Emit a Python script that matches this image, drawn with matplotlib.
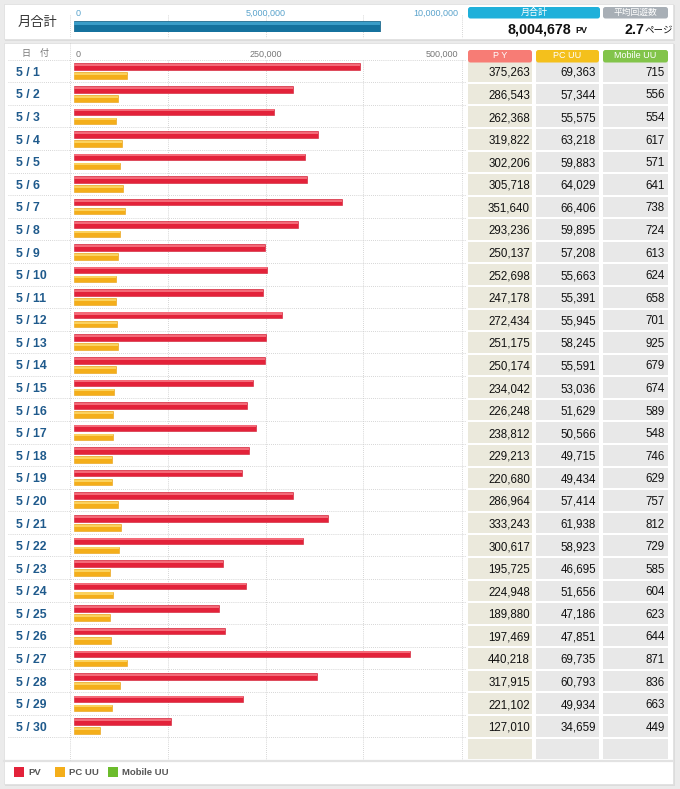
import matplotlib
matplotlib.use('Agg')
import matplotlib.pyplot as plt
from matplotlib.patches import Rectangle, FancyBboxPatch

plt.rcParams['font.family'] = ['Liberation Sans', 'Noto Sans CJK JP', 'DejaVu Sans']

# ---------------- data ----------------
dates = ["5 / 1", "5 / 2", "5 / 3", "5 / 4", "5 / 5", "5 / 6", "5 / 7", "5 / 8", "5 / 9", "5 / 10",
         "5 / 11", "5 / 12", "5 / 13", "5 / 14", "5 / 15", "5 / 16", "5 / 17", "5 / 18", "5 / 19", "5 / 20",
         "5 / 21", "5 / 22", "5 / 23", "5 / 24", "5 / 25", "5 / 26", "5 / 27", "5 / 28", "5 / 29", "5 / 30"]
pv = [375263, 286543, 262368, 319822, 302206, 305718, 351640, 293236, 250137, 252698,
      247178, 272434, 251175, 250174, 234042, 226248, 238812, 229213, 220680, 286964,
      333243, 300617, 195725, 224948, 189880, 197469, 440218, 317915, 221102, 127010]
pc_uu = [69363, 57344, 55575, 63218, 59883, 64029, 66406, 59895, 57208, 55663,
         55391, 55945, 58245, 55591, 53036, 51629, 50566, 49715, 49434, 57414,
         61938, 58923, 46695, 51656, 47186, 47851, 69735, 60793, 49934, 34659]
mobile_uu = [715, 556, 554, 617, 571, 641, 738, 724, 613, 624,
             658, 701, 925, 679, 674, 589, 548, 746, 629, 757,
             812, 729, 585, 604, 623, 644, 871, 836, 663, 449]
month_total = 8004678
avg_pages = 2.7
top_ticks = [0, 5000000, 10000000]
main_ticks = [0, 250000, 500000]
col_headers = ["P Y", "PC UU", "Mobile UU"]
legend_labels = ["PV", "PC UU", "Mobile UU"]

# ---------------- style ----------------
W, H = 680, 789
RED, RED_HI = '#e3223a', '#f46a78'
ORG, ORG_HI = '#f4ae1a', '#fbd25e'
GRN = '#6cbc2c'
BLUE, BLUE_HI = '#15729e', '#3a9dc8'
DATE_C = '#1f5a8c'
GRID_C = '#c8c8c8'

fig = plt.figure(figsize=(W / 100, H / 100), dpi=100, facecolor='#ebebeb')
bg = fig.add_axes([0, 0, 1, 1])
bg.set_xlim(0, W)
bg.set_ylim(H, 0)
bg.axis('off')

def rect(x0, y0, x1, y1, fc, ec='none', lw=0, z=1):
    bg.add_patch(Rectangle((x0, y0), x1 - x0, y1 - y0, facecolor=fc, edgecolor=ec, linewidth=lw, zorder=z))

def rbox(x0, y0, x1, y1, fc, z=3):
    bg.add_patch(FancyBboxPatch((x0 + 1.5, y0 + 1.5), x1 - x0 - 3, y1 - y0 - 1.5,
                                boxstyle='round,pad=1.5,rounding_size=2.5', facecolor=fc,
                                edgecolor='none', zorder=z))

# panels with soft shadow
rect(5, 5, 675, 41, '#dcdcdc', z=0)
rect(4, 4, 673, 39, 'white', ec='#e0e0e0', lw=0.6)
rect(5, 44, 675, 786, '#dcdcdc', z=0)
rect(4, 43, 673, 784, 'white', ec='#e0e0e0', lw=0.6)
bg.plot([4, 673], [760.5, 760.5], color='#e2e2e2', lw=1.6, zorder=2)

grid_x = [70, 168, 266, 363, 462]

# ---------------- top panel ----------------
bg.text(37, 23, "月合計", ha='center', va='center', fontsize=9.5, color='#333333')
for gx in grid_x:
    bg.plot([gx, gx], [15, 38], color=GRID_C, lw=0.6, ls=(0, (1, 1.5)), zorder=2)
tick_pos = [76, 266, 458]
tick_ha = ['left', 'center', 'right']
for t, xp, ha in zip(top_ticks, tick_pos, tick_ha):
    bg.text(xp, 13, f"{t:,}", ha=ha, va='center', fontsize=6.5, color='#5aa3cc')

rbox(468, 7, 600, 17, '#1fb0da')
bg.text(534, 12.3, "月合計", ha='center', va='center', fontsize=6.5, color='white', zorder=4)
rbox(603, 7, 668, 17, '#a8afb6')
bg.text(635.5, 12.3, "平均回遊数", ha='center', va='center', fontsize=6.3, color='white', zorder=4)
bg.text(571, 29.5, f"{month_total:,}", ha='right', va='center', fontsize=10.3, fontweight='bold', color='#111111')
bg.text(575, 30.5, "PV", ha='left', va='center', fontsize=6.5, fontweight='bold', color='#111111')
bg.text(644.5, 29.5, f"{avg_pages}", ha='right', va='center', fontsize=10.3, fontweight='bold', color='#111111')
bg.text(645, 30.5, "ページ", ha='left', va='center', fontsize=6.8, color='#111111')

top_ax = fig.add_axes([74 / W, 1 - 32 / H, 382 / W, 11 / H])
top_ax.set_xlim(0, 10000000)
top_ax.set_ylim(-0.5, 0.5)
top_ax.axis('off')
top_ax.barh([0], [month_total], height=1.0, color=BLUE, edgecolor='#0f5f86', linewidth=0.5)
top_ax.barh([0.3], [month_total], height=0.3, color=BLUE_HI, linewidth=0)

# ---------------- main panel ----------------
ROW0 = 59.7
RH = 22.58
n = len(dates)

bg.text(36, 53.5, "日　付", ha='center', va='center', fontsize=6.5, color='#777777')
main_tick_pos = [76, 266, 458]
for t, xp, ha in zip(main_ticks, main_tick_pos, tick_ha):
    bg.text(xp, 54, f"{t:,}", ha=ha, va='center', fontsize=6.5, color='#777777')

# grid lines
bg.plot([70, 70], [43, 760], color=GRID_C, lw=0.6, ls=(0, (1, 1.5)), zorder=2)
for gx in grid_x[1:]:
    bg.plot([gx, gx], [ROW0, 760], color=GRID_C, lw=0.6, ls=(0, (1, 1.5)), zorder=2)
for i in range(n + 1):
    yy = ROW0 + RH * i
    bg.plot([8, 466], [yy, yy], color=GRID_C, lw=0.6, ls=(0, (1, 1.5)), zorder=2)

# column headers and cells
col_x = [(468, 532), (536, 599), (603, 668)]
col_hdr_c = ['#f77c75', '#f4c01c', '#82c44a']
col_cell_c = ['#ebe9dc', '#e8e8e8', '#e8e8e8']
for (x0, x1), hc, lab in zip(col_x, col_hdr_c, col_headers):
    rbox(x0, 50, x1, 61, hc)
    bg.text((x0 + x1) / 2, 55.8, lab, ha='center', va='center', fontsize=6.5, color='white', zorder=4)
for i in range(n + 1):
    y0 = ROW0 + RH * i + 1.5 if i > 0 else 61
    y1 = ROW0 + RH * (i + 1) - 0.5
    for (x0, x1), cc in zip(col_x, col_cell_c):
        rect(x0, y0, x1, y1, cc, z=1)

for i in range(n):
    yc = ROW0 + RH * i + 13.2
    bg.text(16, yc, dates[i], ha='left', va='center', fontsize=8.8, fontweight='bold', color=DATE_C)
    bg.text(530, yc, f"{pv[i]:,}", ha='right', va='center', fontsize=8.3, color='#111111', zorder=4)
    bg.text(596, yc, f"{pc_uu[i]:,}", ha='right', va='center', fontsize=8.3, color='#111111', zorder=4)
    bg.text(665, yc, f"{mobile_uu[i]:,}", ha='right', va='center', fontsize=8.3, color='#111111', zorder=4)

# bars
ax = fig.add_axes([74 / W, 1 - (ROW0 + RH * n) / H, 381.5 / W, RH * n / H])
ax.set_xlim(0, 500000)
ax.set_ylim(n, 0)
ax.axis('off')
ax.patch.set_alpha(0)
ypos = list(range(n))
red_y = [y + 0.31 for y in ypos]
org_y = [y + 0.71 for y in ypos]
ax.barh(red_y, pv, height=0.29, color=RED, edgecolor='#d01a30', linewidth=0.4)
ax.barh([y - 0.07 for y in red_y], pv, height=0.09, color=RED_HI, linewidth=0)
ax.barh(org_y, pc_uu, height=0.29, color=ORG, edgecolor='#e8a010', linewidth=0.4)
ax.barh([y - 0.07 for y in org_y], pc_uu, height=0.09, color=ORG_HI, linewidth=0)

# ---------------- legend ----------------
leg_x = [14, 55, 108]
leg_c = [RED, ORG, GRN]
for lx, lc, lab in zip(leg_x, leg_c, legend_labels):
    rect(lx, 767, lx + 10, 777, lc, z=3)
    bg.text(lx + 14, 772.5, lab, ha='left', va='center', fontsize=6.8, fontweight='bold', color='#555555')

fig.savefig('out.png', dpi=100, facecolor=fig.get_facecolor())
